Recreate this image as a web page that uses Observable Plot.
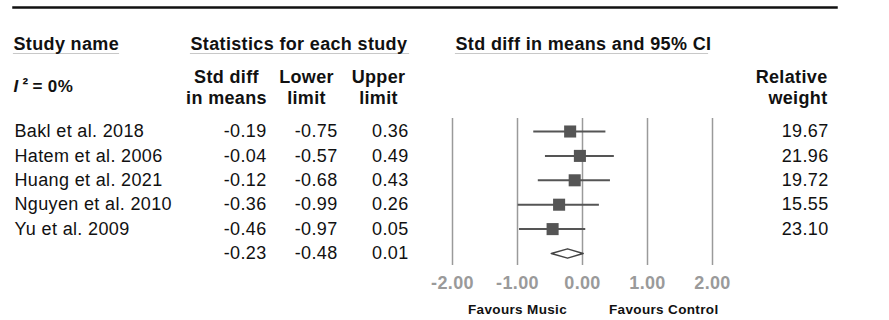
<!DOCTYPE html>
<html>
<head>
<meta charset="utf-8">
<script src="https://cdn.jsdelivr.net/npm/d3@7"></script>
<script src="https://cdn.jsdelivr.net/npm/@observablehq/plot@0.6"></script>
<style>
  html, body { margin: 0; padding: 0; background: #fff; }
  #chart svg { display: block; }
</style>
</head>
<body>
<div id="chart"></div>
<script>
// ---- data ----
const studies = ["Bakl et al. 2018", "Hatem et al. 2006", "Huang et al. 2021", "Nguyen et al. 2010", "Yu et al. 2009"];
const stdDiff = [-0.19, -0.04, -0.12, -0.36, -0.46];
const lowerLimit = [-0.75, -0.57, -0.68, -0.99, -0.97];
const upperLimit = [0.36, 0.49, 0.43, 0.26, 0.05];
const relWeight = ["19.67", "21.96", "19.72", "15.55", "23.10"];
const pooledStdDiff = -0.23;
const pooledLower = -0.48;
const pooledUpper = 0.01;
const xTicks = [-2, -1, 0, 1, 2];
const favourLabels = [{label: "Favours Music", x: -1}, {label: "Favours Control", x: 1.25}];

const rows = studies.map((name, i) => ({name, i, est: stdDiff[i], lo: lowerLimit[i], hi: upperLimit[i], w: relWeight[i]}));
const tableRows = [...rows, {name: "", i: studies.length, est: pooledStdDiff, lo: pooledLower, hi: pooledUpper, w: ""}];
const pr = studies.length;
const dh = 0.19;
const diamond = [
  {x: pooledLower, y: pr}, {x: pooledStdDiff, y: pr - dh}, {x: pooledUpper, y: pr},
  {x: pooledStdDiff, y: pr + dh}, {x: pooledLower, y: pr}
];

const FONT = "'Liberation Sans', Arial, sans-serif";
const fmt = v => v.toFixed(2);
const hdr = {fontWeight: "bold", fontSize: 18, fill: "#111", lineAnchor: "middle"};
const body = {fontSize: 18, fill: "#111", lineAnchor: "middle"};

const chart = Plot.plot({
  width: 889,
  height: 320,
  marginTop: 0, marginBottom: 0, marginLeft: 0, marginRight: 0,
  style: {fontFamily: FONT, background: "#fff", overflow: "visible", letterSpacing: "0.35px"},
  x: {domain: [-2, 2], range: [452, 712], axis: null},
  y: {domain: [0, 5], range: [131, 253], axis: null},
  marks: [
    // top rule
    Plot.frame({anchor: "top", insetTop: 7, insetLeft: 13, insetRight: 53, stroke: "#111", strokeWidth: 2.5}),
    // header underlines
    Plot.frame({anchor: "top", insetTop: 53, insetLeft: 13, insetRight: 889 - 118, stroke: "#c8c8c8", strokeWidth: 1.2}),
    Plot.frame({anchor: "top", insetTop: 53, insetLeft: 190, insetRight: 889 - 408, stroke: "#c8c8c8", strokeWidth: 1.2}),
    Plot.frame({anchor: "top", insetTop: 53, insetLeft: 455, insetRight: 889 - 707, stroke: "#c8c8c8", strokeWidth: 1.2}),
    // headers
    Plot.text(["Study name"], {...hdr, frameAnchor: "top-left", dx: 13, dy: 44, textAnchor: "start"}),
    Plot.text(["Statistics for each study"], {...hdr, frameAnchor: "top-left", dx: 190, dy: 44, textAnchor: "start"}),
    Plot.text(["Std diff in means and 95% CI"], {...hdr, frameAnchor: "top-left", dx: 455, dy: 44, textAnchor: "start"}),
    Plot.text(["I"], {...hdr, fontSize: 17, fontStyle: "italic", frameAnchor: "top-left", dx: 13, dy: 86, textAnchor: "start"}),
    Plot.text(["²"], {...hdr, fontSize: 17, frameAnchor: "top-left", dx: 22, dy: 84, textAnchor: "start"}),
    Plot.text(["= 0%"], {...hdr, fontSize: 17, frameAnchor: "top-left", dx: 32, dy: 86, textAnchor: "start"}),
    Plot.text(["Std diff\nin means"], {...hdr, lineHeight: 1.17, frameAnchor: "top-left", dx: 226, dy: 86, textAnchor: "middle"}),
    Plot.text(["Lower\nlimit"], {...hdr, lineHeight: 1.17, frameAnchor: "top-left", dx: 306, dy: 86, textAnchor: "middle"}),
    Plot.text(["Upper\nlimit"], {...hdr, lineHeight: 1.17, frameAnchor: "top-left", dx: 378, dy: 86, textAnchor: "middle"}),
    Plot.text(["Relative\nweight"], {...hdr, lineHeight: 1.17, frameAnchor: "top-left", dx: 827, dy: 86, textAnchor: "end"}),
    // table body
    Plot.text(tableRows, {...body, y: "i", text: "name", frameAnchor: "left", dx: 14, textAnchor: "start"}),
    Plot.text(tableRows, {...body, y: "i", text: d => fmt(d.est), frameAnchor: "left", dx: 266, textAnchor: "end"}),
    Plot.text(tableRows, {...body, y: "i", text: d => fmt(d.lo), frameAnchor: "left", dx: 337, textAnchor: "end"}),
    Plot.text(tableRows, {...body, y: "i", text: d => fmt(d.hi), frameAnchor: "left", dx: 408, textAnchor: "end"}),
    Plot.text(tableRows, {...body, y: "i", text: "w", frameAnchor: "left", dx: 828, textAnchor: "end"}),
    // forest plot
    Plot.ruleX(xTicks, {stroke: "#9a9a9a", strokeWidth: 1.5, insetTop: 118, insetBottom: 55}),
    Plot.ruleY(rows, {y: "i", x1: "lo", x2: "hi", stroke: "#555", strokeWidth: 2}),
    Plot.dot(rows, {x: "est", y: "i", symbol: "square", r: 6.8, fill: "#555", stroke: "none"}),
    Plot.line(diamond, {x: "x", y: "y", fill: "#fff", stroke: "#444", strokeWidth: 1.5}),
    // axis labels
    Plot.text(xTicks, {x: d => d, text: d => fmt(d), frameAnchor: "top", dy: 283, lineAnchor: "middle", fontSize: 18, fontWeight: "bold", fill: "#9a9a9a"}),
    Plot.text(favourLabels, {x: "x", text: "label", frameAnchor: "top", dy: 309, lineAnchor: "middle", fontSize: 13.5, fontWeight: "bold", fill: "#111"})
  ]
});
document.getElementById("chart").appendChild(chart);
</script>
</body>
</html>
